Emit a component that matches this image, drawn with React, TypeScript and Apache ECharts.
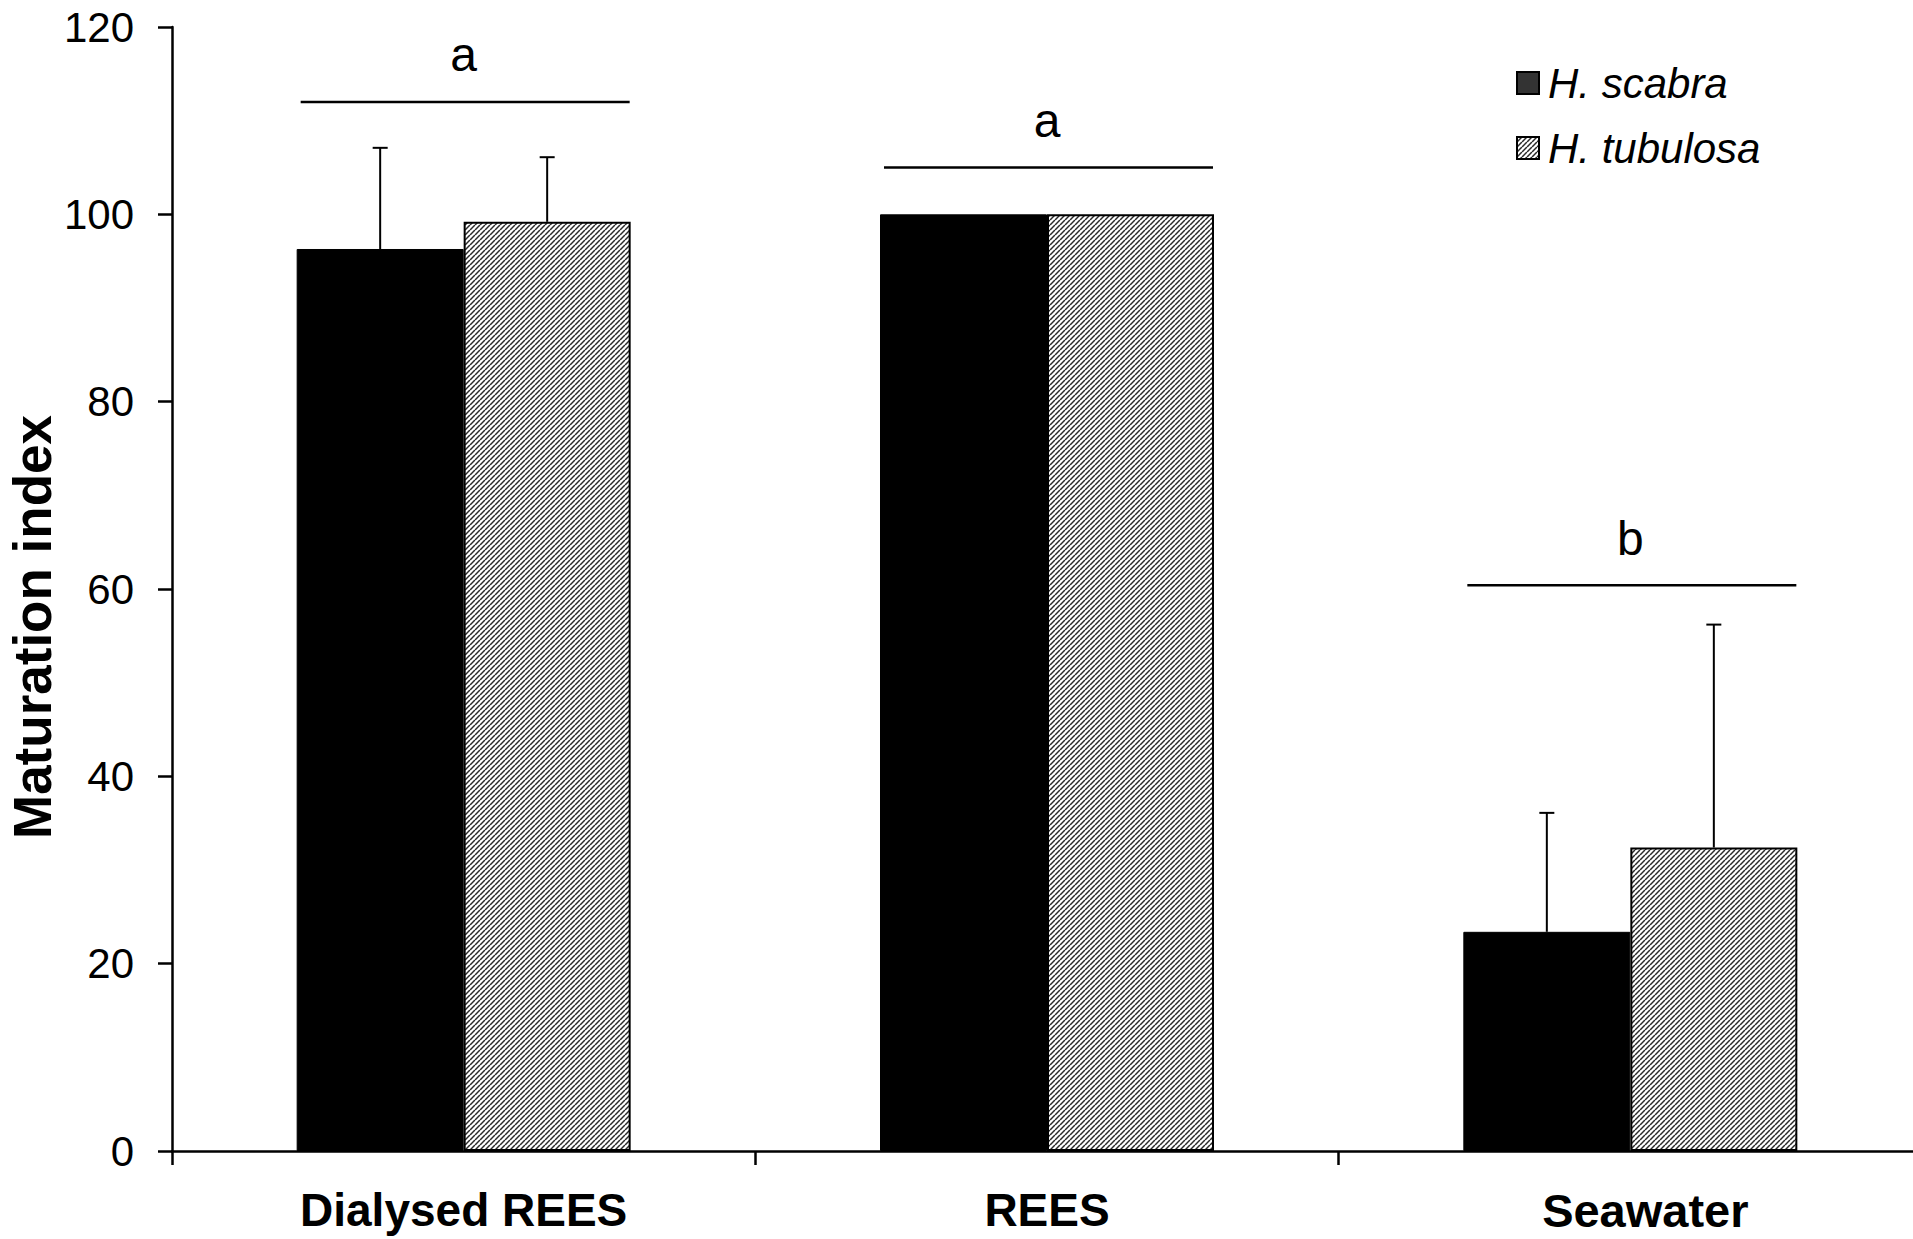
import React, { useEffect, useRef } from "react";
import * as echarts from "echarts";

// Treatments and measured maturation index (mean and standard deviation)
const categories = ["Dialysed REES", "REES", "Seawater"];
const speciesNames = ["H. scabra", "H. tubulosa"];
const scabraMean = [96.3, 100, 23.4];
const scabraSD = [10.8, 0, 12.7];
const tubulosaMean = [99.2, 100, 32.4];
const tubulosaSD = [6.9, 0, 23.8];
// Significance groups: bracket height per treatment and its letter
const groupLevel = [112, 105, 60.4];
const groupLetter = ["a", "a", "b"];
const yTicks = { min: 0, max: 120, interval: 20 };

const FONT = "'Liberation Sans', Arial, Helvetica, sans-serif";
const BAR_W = 167;

function makeHatch(): HTMLCanvasElement {
  const n = 5;
  const c = document.createElement("canvas");
  c.width = n;
  c.height = n;
  const ctx = c.getContext("2d")!;
  ctx.fillStyle = "#ffffff";
  ctx.fillRect(0, 0, n, n);
  ctx.strokeStyle = "#2a2a2a";
  ctx.lineWidth = 1.5;
  for (let k = -1; k <= 1; k++) {
    ctx.beginPath();
    ctx.moveTo(k * n, n);
    ctx.lineTo(k * n + n, 0);
    ctx.stroke();
  }
  return c;
}

export default function App() {
  const ref = useRef<HTMLDivElement>(null);

  useEffect(() => {
    if (!ref.current) return;
    const chart = echarts.init(ref.current, null, { renderer: "svg" });
    const hatch = { image: makeHatch(), repeat: "repeat" } as any;

    const errData = (mean: number[], sd: number[]) =>
      mean.map((m, i) => [i, m, m + sd[i]]);

    const errorSeries = (mean: number[], sd: number[], dx: number) => ({
      type: "custom",
      z: 5,
      silent: true,
      data: errData(mean, sd),
      encode: { x: 0, y: [1, 2] },
      renderItem: (params: any, api: any) => {
        const i = api.value(0);
        const top = api.value(2);
        const base = api.value(1);
        if (top <= base) return null;
        const p0 = api.coord([i, base]);
        const p1 = api.coord([i, top]);
        const x = p0[0] + dx;
        return {
          type: "group",
          children: [
            {
              type: "line",
              shape: { x1: x, y1: p0[1], x2: x, y2: p1[1] },
              style: { stroke: "#000", lineWidth: 2 },
            },
            {
              type: "line",
              shape: { x1: x - 7.5, y1: p1[1], x2: x + 7.5, y2: p1[1] },
              style: { stroke: "#000", lineWidth: 2 },
            },
          ],
        };
      },
    });

    const labelStyle = {
      color: "#000",
      fontFamily: FONT,
      fontSize: 46,
      fontWeight: "bold" as const,
    };

    chart.setOption({
      animation: false,
      backgroundColor: "#ffffff",
      grid: { left: 172, top: 27, bottom: 88, width: 1750, containLabel: false },
      legend: {
        orient: "vertical",
        left: 1516,
        top: 61,
        padding: 0,
        itemGap: 21,
        itemWidth: 22,
        itemHeight: 22,
        icon: "rect",
        itemStyle: { borderColor: "#000", borderWidth: 2 },
        textStyle: {
          fontFamily: FONT,
          fontSize: 42,
          fontStyle: "italic",
          color: "#000",
          lineHeight: 44,
          padding: [0, 0, 0, 4],
        },
        data: [
          { name: speciesNames[0], itemStyle: { color: "#333333" } },
          { name: speciesNames[1] },
        ],
      },
      xAxis: {
        type: "category",
        data: categories,
        axisLine: { lineStyle: { color: "#000", width: 2.5 } },
        axisTick: { show: true, length: 14, interval: 0, alignWithLabel: false, lineStyle: { color: "#000", width: 2.5 } },
        axisLabel: {
          interval: 0,
          margin: 36,
          ...labelStyle,
          // the last treatment label sits a little right of its band centre
          formatter: (v: string, i: number) =>
            i === categories.length - 1 ? `{shift|${v}}` : `{base|${v}}`,
          rich: {
            base: { ...labelStyle },
            shift: { ...labelStyle, fontSize: 47, padding: [0, 0, 0, 30] },
          },
        },
        splitLine: { show: false },
      },
      yAxis: {
        type: "value",
        min: yTicks.min,
        max: yTicks.max,
        interval: yTicks.interval,
        axisLine: { show: true, lineStyle: { color: "#000", width: 2.5 } },
        axisTick: { show: true, length: 14, lineStyle: { color: "#000", width: 2.5 } },
        axisLabel: { margin: 38, color: "#000", fontFamily: FONT, fontSize: 42 },
        splitLine: { show: false },
      },
      graphic: [
        {
          type: "text",
          x: 32,
          y: 627,
          rotation: Math.PI / 2,
          style: {
            text: "Maturation index",
            fontFamily: FONT,
            fontSize: 53,
            fontWeight: "bold",
            fill: "#000",
            align: "center",
            verticalAlign: "middle",
            textAlign: "center",
            textVerticalAlign: "middle",
          },
        },
      ],
      series: [
        {
          name: speciesNames[0],
          type: "bar",
          data: scabraMean,
          barWidth: BAR_W,
          barGap: "0%",
          itemStyle: { color: "#000", borderColor: "#000", borderWidth: 1 },
        },
        {
          name: speciesNames[1],
          type: "bar",
          data: tubulosaMean,
          barWidth: BAR_W,
          barGap: "0%",
          itemStyle: { color: hatch, borderColor: "#000", borderWidth: 2 },
        },
        errorSeries(scabraMean, scabraSD, -BAR_W / 2),
        errorSeries(tubulosaMean, tubulosaSD, BAR_W / 2),
        {
          type: "custom",
          z: 5,
          silent: true,
          data: groupLevel.map((v, i) => [i, v]),
          encode: { x: 0, y: 1 },
          renderItem: (params: any, api: any) => {
            const p = api.coord([api.value(0), api.value(1)]);
            return {
              type: "group",
              children: [
                {
                  type: "line",
                  shape: { x1: p[0] - 163, y1: p[1], x2: p[0] + 166, y2: p[1] },
                  style: { stroke: "#000", lineWidth: 2.5 },
                },
                {
                  type: "text",
                  x: p[0],
                  y: p[1] - 47,
                  style: {
                    text: groupLetter[params.dataIndex],
                    fontFamily: FONT,
                    fontSize: 48,
                    fill: "#000",
                    align: "center",
                    verticalAlign: "middle",
                    textAlign: "center",
                    textVerticalAlign: "middle",
                  },
                },
              ],
            };
          },
        },
      ],
    });

    return () => chart.dispose();
  }, []);

  // The plot area runs a little past the right edge of the frame, so the
  // chart surface is wider than the visible window, which clips it.
  return (
    <div
      style={{ position: "absolute", left: 0, top: 0, width: 1913, height: 1239, overflow: "hidden", background: "#fff" }}
    >
      <div ref={ref} style={{ width: 1935, height: 1239 }} />
    </div>
  );
}
